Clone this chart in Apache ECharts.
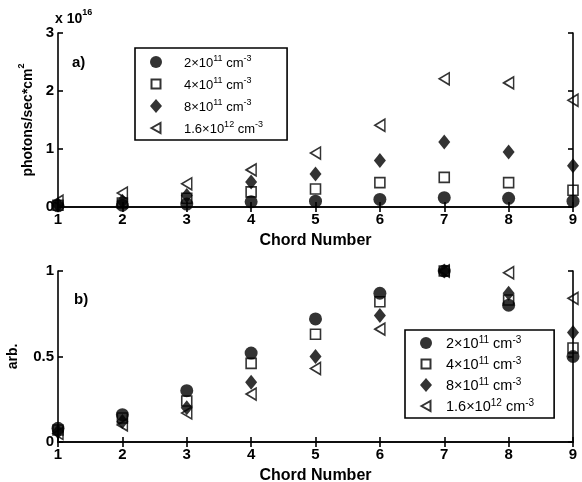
<!DOCTYPE html>
<html><head><meta charset="utf-8">
<script src="https://cdn.jsdelivr.net/npm/echarts@6/dist/echarts.min.js"></script>
<style>html,body{margin:0;padding:0;background:#fff}#c{width:582px;height:482px}</style>
</head><body><div id="c"></div>
<script>
// ---- data ----
var chords = [1, 2, 3, 4, 5, 6, 7, 8, 9];
var seriesNames = ['2×10^11 cm^-3', '4×10^11 cm^-3', '8×10^11 cm^-3', '1.6×10^12 cm^-3'];
var densityMantissa = ['2', '4', '8', '1.6'];
var densityExponent = ['11', '11', '11', '12'];
// panel a) photons/sec*cm^2, in units of 1e16
var aCircle   = [0.02, 0.03, 0.05, 0.09, 0.10, 0.13, 0.16, 0.15, 0.10];
var aSquare   = [0.03, 0.07, 0.15, 0.26, 0.31, 0.42, 0.51, 0.42, 0.29];
var aDiamond  = [0.04, 0.10, 0.20, 0.43, 0.57, 0.80, 1.12, 0.95, 0.71];
var aTriangle = [0.10, 0.24, 0.40, 0.64, 0.93, 1.41, 2.21, 2.14, 1.84];
// panel b) normalized (arb.)
var bCircle   = [0.08, 0.16, 0.30, 0.52, 0.72, 0.87, 1.00, 0.80, 0.50];
var bSquare   = [0.07, 0.14, 0.24, 0.46, 0.63, 0.82, 1.00, 0.83, 0.55];
var bDiamond  = [0.06, 0.12, 0.20, 0.35, 0.50, 0.74, 1.00, 0.87, 0.64];
var bTriangle = [0.05, 0.10, 0.17, 0.28, 0.43, 0.66, 1.00, 0.99, 0.84];
var aTicks = ['0', '1', '2', '3'];
var bTicks = ['0', '0.5', '1'];

// ---- styles ----
var FONT = '"Liberation Sans", Arial, sans-serif';
var symbolDefs = [
  {symbol: 'circle', size: 13, filled: true, icon: 'circle'},
  {symbol: 'rect', size: 10, filled: false, icon: 'path://M0,0M12,14M1.5,2.5H10.5V11.5H1.5Z'},
  {symbol: 'diamond', size: [12, 15], filled: true, icon: 'diamond'},
  {symbol: 'path://M0,5L10,0L10,10Z', size: [10, 12], filled: false, icon: 'path://M0,0M12,14M1.5,7L10.5,2L10.5,12Z'}
];
function pairs(vals) { return chords.map(function (c, i) { return [c, vals[i]]; }); }
function mkSeries(vals, k, xi, yi) {
  var d = symbolDefs[k];
  return {
    type: 'scatter', name: seriesNames[k], xAxisIndex: xi, yAxisIndex: yi,
    data: pairs(vals), symbol: d.symbol, symbolSize: d.size, clip: false,
    itemStyle: d.filled ? {color: '#000', borderColor: '#000', borderWidth: 0}
                        : {color: 'rgba(255,255,255,0)', borderColor: '#000', borderWidth: 1.6},
    emphasis: {disabled: true}
  };
}
function richLegend(fs) {
  return {
    b: {fontFamily: FONT, fontSize: fs, color: '#000', lineHeight: 16, verticalAlign: 'bottom'},
    s: {fontFamily: FONT, fontSize: Math.round(fs * 0.68), color: '#000', lineHeight: 16, verticalAlign: 'top', padding: [0, 0, 6, 0]},
    sp1: {width: 17},
    sp2: {width: 9}
  };
}
function legendFormatter(sp) {
  return function (name) {
    var k = seriesNames.indexOf(name);
    return '{' + sp + '|}{b|' + densityMantissa[k] + '×10}{s|' + densityExponent[k] + '}{b| cm}{s|-3}';
  };
}
function legendData() {
  return seriesNames.map(function (n, k) { return {name: n, icon: symbolDefs[k].icon}; });
}
var axisLineStyle = {color: '#000', width: 1.6};
function xAxisMain(gi) {
  return {
    type: 'value', gridIndex: gi, min: 1, max: 9, interval: 1, position: 'bottom',
    name: 'Chord Number', nameLocation: 'middle', nameGap: 26,
    nameTextStyle: {fontFamily: FONT, fontWeight: 'bold', fontSize: 16, color: '#000'},
    axisLine: {lineStyle: axisLineStyle},
    axisTick: {inside: true, length: 5, lineStyle: axisLineStyle},
    axisLabel: {margin: 5, fontFamily: FONT, fontWeight: 'bold', fontSize: 15, color: '#000',
      formatter: function (v) { return String(chords[Math.round(v) - 1]); }},
    splitLine: {show: false}
  };
}
function xAxisMirror(gi) {
  return {
    type: 'value', gridIndex: gi, min: 1, max: 9, interval: 1, position: 'top',
    axisLine: {lineStyle: axisLineStyle},
    axisTick: {inside: true, length: 5, lineStyle: axisLineStyle},
    axisLabel: {show: false}, splitLine: {show: false}
  };
}
function yAxisMain(gi, max, interval, ticks, name, gap, rich) {
  return {
    type: 'value', gridIndex: gi, min: 0, max: max, interval: interval, position: 'left',
    name: name, nameLocation: 'middle', nameGap: gap,
    nameTextStyle: {fontFamily: FONT, fontWeight: 'bold', fontSize: 14, color: '#000', rich: rich},
    axisLine: {lineStyle: axisLineStyle},
    axisTick: {inside: true, length: 5, lineStyle: axisLineStyle},
    axisLabel: {margin: 4, fontFamily: FONT, fontWeight: 'bold', fontSize: 15, color: '#000',
      formatter: function (v) { return ticks[Math.round(v / interval)]; }},
    splitLine: {show: false}
  };
}
function yAxisMirror(gi, max, interval) {
  return {
    type: 'value', gridIndex: gi, min: 0, max: max, interval: interval, position: 'right',
    axisLine: {lineStyle: axisLineStyle},
    axisTick: {inside: true, length: 5, lineStyle: axisLineStyle},
    axisLabel: {show: false}, splitLine: {show: false}
  };
}
var richName = {
  a: {fontFamily: FONT, fontWeight: 'bold', fontSize: 14, color: '#000', lineHeight: 18, verticalAlign: 'bottom'},
  s: {fontFamily: FONT, fontWeight: 'bold', fontSize: 9, color: '#000', lineHeight: 18, verticalAlign: 'top', padding: [0, 0, 7, 0]}
};

var chart = echarts.init(document.getElementById('c'), null, {renderer: 'canvas'});
chart.setOption({
  animation: false,
  backgroundColor: '#fff',
  grid: [
    {left: 58, top: 33, width: 515, height: 174, outerBoundsMode: 'none', containLabel: false},
    {left: 58, top: 271, width: 515, height: 171, outerBoundsMode: 'none', containLabel: false}
  ],
  xAxis: [xAxisMain(0), xAxisMain(1), xAxisMirror(0), xAxisMirror(1)],
  yAxis: [
    yAxisMain(0, 3, 1, aTicks, '{a|photons/sec*cm}{s|2}', 21, richName),
    yAxisMain(1, 1, 0.5, bTicks, '{a|arb.}', 38, richName),
    yAxisMirror(0, 3, 1), yAxisMirror(1, 1, 0.5)
  ],
  legend: [
    {
      orient: 'vertical', left: 135, top: 48,
      padding: [6, 24, 4, 14], itemGap: 6, itemWidth: 12, itemHeight: 14,
      borderColor: '#000', borderWidth: 1.6, backgroundColor: '#fff',
      data: legendData(), selectedMode: false,
      formatter: legendFormatter('sp1'),
      textStyle: {rich: richLegend(13)}
    },
    {
      orient: 'vertical', left: 405, top: 330,
      padding: [5, 20, 4, 14], itemGap: 5, itemWidth: 12, itemHeight: 14,
      borderColor: '#000', borderWidth: 1.6, backgroundColor: '#fff',
      data: legendData(), selectedMode: false,
      formatter: legendFormatter('sp2'),
      textStyle: {rich: richLegend(14.5)}
    }
  ],
  graphic: [
    {type: 'text', left: 55, top: 8, style: {
      text: '{a|x 10}{s|16}', rich: richName}},
    {type: 'text', left: 72, top: 55, style: {
      text: 'a)', font: 'bold 15px ' + FONT, fill: '#000'}},
    {type: 'text', left: 74, top: 292, style: {
      text: 'b)', font: 'bold 15px ' + FONT, fill: '#000'}}
  ],
  series: [
    mkSeries(aCircle, 0, 0, 0), mkSeries(aSquare, 1, 0, 0),
    mkSeries(aDiamond, 2, 0, 0), mkSeries(aTriangle, 3, 0, 0),
    mkSeries(bCircle, 0, 1, 1), mkSeries(bSquare, 1, 1, 1),
    mkSeries(bDiamond, 2, 1, 1), mkSeries(bTriangle, 3, 1, 1)
  ]
});
</script>
</body></html>
